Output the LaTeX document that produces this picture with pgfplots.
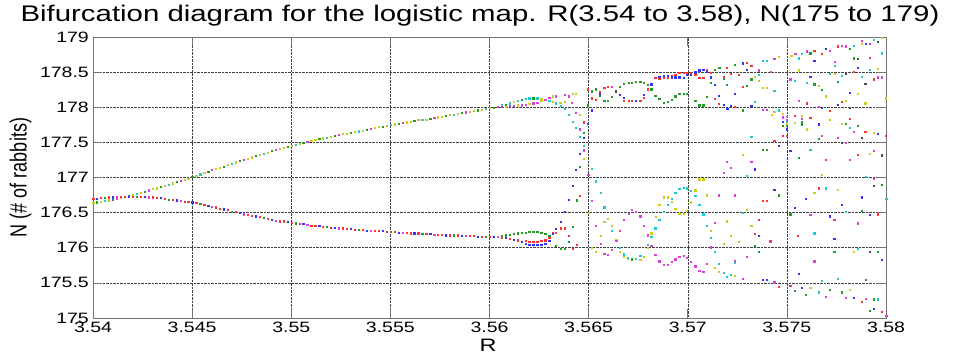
\documentclass[border=0pt]{standalone}
\usepackage{fontspec}
\setmainfont{Liberation Sans}
\newfontfamily\wfont[FakeStretch=1.3]{Liberation Sans}
\usepackage{graphicx}
\usepackage{pgfplots}
\pgfplotsset{compat=1.18}
\definecolor{mr}{rgb}{1,0.2,0.2}
\definecolor{mg}{rgb}{0.15,0.6,0.15}
\definecolor{mb}{rgb}{0.2,0.2,1}
\definecolor{mc}{rgb}{0.1,0.8,0.8}
\definecolor{mm}{rgb}{0.85,0.25,0.85}
\definecolor{my}{rgb}{0.8,0.8,0.1}
\definecolor{mk}{rgb}{0.3,0.3,0.3}
\begin{document}
\begin{tikzpicture}
\path[use as bounding box] (-93pt,-38pt) rectangle (861pt,318pt);
\begin{axis}[
  at={(0,0)}, anchor=south west,
  width=793pt, height=281pt, scale only axis,
  xmin=3.54, xmax=3.58, ymin=175, ymax=179,
  xtick={3.54,3.545,3.55,3.555,3.56,3.565,3.57,3.575,3.58},
  xticklabels={3.54,3.545,3.55,3.555,3.56,3.565,3.57,3.575,3.58},
  ytick={175,175.5,176,176.5,177,177.5,178,178.5,179},
  yticklabels={175,175.5,176,176.5,177,177.5,178,178.5,179},
  grid=major,
  grid style={densely dotted, black!75, line width=0.5pt},
  tick align=inside, major tick length=9pt,
  axis line style={black!55, line width=0.8pt},
  tick style={black!55, line width=0.6pt},
  ticklabel style={font=\wfont\fontsize{15}{15}\selectfont, inner sep=0pt},
  xticklabel style={yshift=-4pt},
  yticklabel style={xshift=-4pt},
  scatter/classes={
    r={draw=mr,fill=mr}, g={draw=mg,fill=mg}, b={draw=mb,fill=mb},
    c={draw=mc,fill=mc}, m={draw=mm,fill=mm}, y={draw=my,fill=my},
    k={draw=mk,fill=mk}},
]
\addplot[scatter, only marks, mark=square*, mark size=0.6pt,
  mark options={line width=0.15pt},
  scatter src=explicit symbolic]
  table[x=x, y=y, meta=c] {
x y c
3.5400 176.64 y
3.5402 176.65 g
3.5404 176.66 y
3.5406 176.67 c
3.5408 176.68 y
3.5410 176.69 g
3.5412 176.70 m
3.5414 176.71 y
3.5416 176.73 y
3.5418 176.74 g
3.5420 176.76 y
3.5422 176.77 c
3.5424 176.79 y
3.5426 176.80 g
3.5428 176.82 m
3.5430 176.84 y
3.5432 176.85 y
3.5434 176.87 g
3.5436 176.89 y
3.5438 176.90 c
3.5440 176.92 y
3.5442 176.94 g
3.5444 176.96 m
3.5446 176.97 y
3.5448 176.99 y
3.5450 177.01 g
3.5452 177.03 y
3.5454 177.05 c
3.5456 177.07 y
3.5458 177.09 g
3.5460 177.11 m
3.5462 177.13 y
3.5464 177.14 y
3.5466 177.16 g
3.5468 177.18 y
3.5470 177.20 c
3.5472 177.22 y
3.5474 177.24 g
3.5476 177.25 m
3.5478 177.27 y
3.5480 177.29 y
3.5482 177.31 g
3.5484 177.33 y
3.5486 177.34 c
3.5488 177.36 y
3.5490 177.38 g
3.5492 177.40 m
3.5494 177.41 y
3.5496 177.43 y
3.5498 177.44 g
3.5500 177.46 y
3.5502 177.47 c
3.5504 177.48 y
3.5506 177.50 g
3.5508 177.51 m
3.5510 177.52 y
3.5512 177.54 y
3.5514 177.55 g
3.5516 177.56 y
3.5518 177.57 c
3.5520 177.58 y
3.5522 177.60 g
3.5524 177.61 m
3.5526 177.62 y
3.5528 177.63 y
3.5530 177.64 g
3.5532 177.65 y
3.5534 177.66 c
3.5536 177.67 y
3.5538 177.68 g
3.5540 177.70 m
3.5542 177.71 y
3.5544 177.72 y
3.5546 177.73 g
3.5548 177.74 y
3.5550 177.75 c
3.5552 177.76 y
3.5554 177.77 g
3.5556 177.78 m
3.5558 177.79 y
3.5560 177.80 y
3.5562 177.81 g
3.5564 177.82 y
3.5566 177.82 c
3.5568 177.83 y
3.5570 177.84 g
3.5572 177.85 m
3.5574 177.86 y
3.5576 177.87 y
3.5578 177.88 g
3.5580 177.89 y
3.5582 177.90 c
3.5584 177.91 y
3.5586 177.92 g
3.5588 177.93 m
3.5590 177.94 y
3.5592 177.95 y
3.5594 177.96 g
3.5596 177.97 y
3.5598 177.98 c
3.5600 177.99 y
3.5602 178.00 g
3.5604 178.01 m
3.5400 176.70 r
3.5402 176.70 b
3.5404 176.71 r
3.5406 176.71 g
3.5408 176.72 r
3.5410 176.72 b
3.5412 176.72 m
3.5414 176.73 r
3.5416 176.73 r
3.5418 176.73 b
3.5420 176.73 r
3.5422 176.73 g
3.5424 176.73 r
3.5426 176.73 b
3.5428 176.72 m
3.5430 176.72 r
3.5432 176.71 r
3.5434 176.71 b
3.5436 176.70 r
3.5438 176.69 g
3.5440 176.69 r
3.5442 176.68 b
3.5444 176.67 m
3.5446 176.66 r
3.5448 176.66 r
3.5450 176.65 b
3.5452 176.64 r
3.5454 176.63 g
3.5456 176.61 r
3.5458 176.60 b
3.5460 176.59 m
3.5462 176.58 r
3.5464 176.56 r
3.5466 176.55 b
3.5468 176.54 r
3.5470 176.52 g
3.5472 176.51 r
3.5474 176.50 b
3.5476 176.48 m
3.5478 176.47 r
3.5480 176.46 r
3.5482 176.45 b
3.5484 176.44 r
3.5486 176.43 g
3.5488 176.42 r
3.5490 176.40 b
3.5492 176.39 m
3.5494 176.38 r
3.5496 176.38 r
3.5498 176.37 b
3.5500 176.36 r
3.5502 176.35 g
3.5504 176.34 r
3.5506 176.34 b
3.5508 176.33 m
3.5510 176.32 r
3.5512 176.32 r
3.5514 176.31 b
3.5516 176.30 r
3.5518 176.30 g
3.5520 176.29 r
3.5522 176.29 b
3.5524 176.28 m
3.5526 176.28 r
3.5528 176.27 r
3.5530 176.27 b
3.5532 176.26 r
3.5534 176.26 g
3.5536 176.26 r
3.5538 176.25 b
3.5540 176.25 m
3.5542 176.25 r
3.5544 176.24 r
3.5546 176.24 b
3.5548 176.23 r
3.5550 176.23 g
3.5552 176.23 r
3.5554 176.22 b
3.5556 176.22 m
3.5558 176.22 r
3.5560 176.21 r
3.5562 176.21 b
3.5564 176.21 r
3.5566 176.20 g
3.5568 176.20 r
3.5570 176.20 b
3.5572 176.19 m
3.5574 176.19 r
3.5576 176.19 r
3.5578 176.18 b
3.5580 176.18 r
3.5582 176.18 g
3.5584 176.18 r
3.5586 176.17 b
3.5588 176.17 m
3.5590 176.17 r
3.5592 176.17 r
3.5594 176.16 b
3.5596 176.16 r
3.5598 176.16 g
3.5600 176.16 r
3.5602 176.16 b
3.5604 176.16 m
3.5606 178.03 c
3.5608 178.04 g
3.5610 178.06 c
3.5612 178.08 y
3.5614 178.09 c
3.5616 178.11 g
3.5618 178.12 c
3.5620 178.13 c
3.5622 178.13 g
3.5624 178.13 c
3.5626 178.12 y
3.5628 178.11 c
3.5630 178.10 c
3.5632 178.08 y
3.5606 178.01 m
3.5608 178.01 y
3.5610 178.02 m
3.5612 178.02 m
3.5614 178.03 y
3.5616 178.03 m
3.5618 178.04 m
3.5620 178.05 y
3.5622 178.06 m
3.5624 178.07 m
3.5626 178.09 y
3.5628 178.11 m
3.5630 178.14 m
3.5632 178.16 y
3.5606 176.17 g
3.5608 176.18 g
3.5610 176.19 g
3.5612 176.20 g
3.5614 176.21 g
3.5616 176.22 g
3.5618 176.22 g
3.5620 176.23 g
3.5622 176.23 g
3.5624 176.23 g
3.5626 176.22 g
3.5628 176.20 g
3.5630 176.17 g
3.5606 176.15 r
3.5608 176.14 b
3.5610 176.13 r
3.5612 176.12 b
3.5614 176.11 r
3.5616 176.09 b
3.5618 176.10 r
3.5618 176.06 b
3.5620 176.09 r
3.5620 176.05 b
3.5622 176.09 r
3.5622 176.04 b
3.5624 176.09 r
3.5624 176.04 b
3.5626 176.10 r
3.5626 176.04 b
3.5628 176.11 r
3.5628 176.06 b
3.5630 176.14 r
3.5630 176.10 b
3.5632 176.21 r
3.5632 176.20 b
3.56334 178.16 m
3.56334 178.06 c
3.56356 178.07 y
3.56377 178.18 m
3.56377 178.08 y
3.56397 178.16 m
3.56418 178.19 y
3.56436 178.19 y
3.56415 178.07 m
3.56357 178.02 c
3.56377 177.98 c
3.56397 177.90 c
3.56436 177.92 m
3.56455 177.90 y
3.56418 177.80 c
3.56436 177.71 c
3.56455 177.69 m
3.56475 177.79 r
3.56475 177.64 g
3.56455 177.58 c
3.56475 177.57 b
3.56475 177.45 c
3.56475 177.39 m
3.56455 177.34 b
3.56475 177.27 y
3.56455 177.15 g
3.56436 177.11 b
3.56515 177.13 c
3.56495 177.77 b
3.56495 178.03 g
3.56495 177.04 m
3.56495 178.26 r
3.56515 177.96 b
3.56515 178.13 r
3.56515 178.23 g
3.56536 178.11 r
3.56536 178.26 g
3.56557 178.22 r
3.56557 178.20 b
3.56557 178.17 g
3.56578 178.28 r
3.56578 178.10 g
3.56596 178.29 r
3.56596 178.09 g
3.56616 178.29 m
3.56616 178.15 g
3.56637 178.23 k
3.56657 178.29 g
3.56657 178.18 b
3.56675 178.14 b
3.56675 178.34 g
3.56675 178.10 r
3.56700 178.35 g
3.56700 178.09 r
3.56717 178.09 r
3.56717 178.35 g
3.56737 178.09 b
3.56737 178.37 g
3.56759 178.09 r
3.56759 178.37 g
3.56776 178.14 r
3.56776 178.18 b
3.56776 178.35 g
3.56796 178.27 b
3.56796 178.32 g
3.56796 178.26 r
3.56815 178.26 g
3.56815 178.33 b
3.56835 178.17 g
3.56835 178.42 r
3.56855 178.44 b
3.56855 178.41 r
3.56855 178.12 g
3.56877 178.42 r
3.56877 178.45 b
3.56877 178.07 g
3.56899 178.43 r
3.56899 178.45 b
3.56919 178.45 r
3.56919 178.43 b
3.56936 178.47 r
3.56936 178.43 b
3.56956 178.49 r
3.56956 178.43 b
3.56978 178.49 r
3.56978 178.42 b
3.56996 178.46 b
3.56996 178.49 r
3.57016 178.47 b
3.57016 178.49 r
3.57037 178.50 b
3.57037 178.47 r
3.57057 178.53 b
3.57057 178.42 r
3.57077 178.54 b
3.57077 178.42 r
3.57096 178.54 r
3.57096 178.51 b
3.57117 178.49 r
3.57117 178.43 b
3.57117 178.35 g
3.57137 178.54 g
3.57137 178.32 b
3.57158 178.56 g
3.57179 178.44 r
3.57179 178.41 g
3.57196 178.32 g
3.57196 178.57 r
3.57218 178.48 r
3.57235 178.61 g
3.57258 178.46 r
3.57275 178.63 b
3.57295 178.64 r
3.57295 178.54 b
3.57319 178.59 r
3.57275 178.29 r
3.57295 178.31 g
3.57319 178.40 g
3.57137 178.12 r
3.57154 178.05 r
3.57154 178.17 b
3.57179 178.04 b
3.57198 177.98 b
3.57217 178.02 b
3.57235 178.01 r
3.57275 177.96 g
3.57235 178.20 b
3.57096 178.15 g
3.57057 178.03 g
3.57037 178.09 g
3.57077 178.03 g
3.56996 178.19 g
3.56978 178.20 g
3.56956 178.20 g
3.56936 178.16 g
3.56919 178.11 g
3.56899 178.08 g
3.57336 178.44 y
3.57356 178.53 m
3.57356 178.47 c
3.57356 178.38 y
3.57378 178.28 y
3.57398 178.28 y
3.57378 178.66 c
3.57398 178.67 c
3.57435 178.69 m
3.57416 178.51 m
3.57435 178.24 c
3.57319 178.02 b
3.57336 178.08 c
3.57378 177.97 m
3.57398 177.97 m
3.57435 177.94 y
3.57423 177.90 y
3.57319 177.58 c
3.57435 177.52 r
3.57378 177.40 g
3.57398 177.40 g
3.57275 177.33 y
3.57319 177.23 m
3.57196 177.23 m
3.57217 177.14 m
3.57179 177.07 m
3.57336 177.12 b
3.57295 177.03 c
3.57057 176.98 y
3.57077 176.98 y
3.57457 178.72 y
3.57521 178.74 y
3.57541 178.76 m
3.57558 178.70 c
3.57575 178.76 c
3.57600 178.80 m
3.57617 178.77 g
3.57637 178.81 r
3.57637 178.66 b
3.57696 178.83 b
3.57714 178.81 m
3.57676 178.76 r
3.57756 178.87 r
3.57776 178.88 m
3.57797 178.87 m
3.57835 178.88 c
3.57818 178.84 g
3.57835 178.70 g
3.57855 178.69 k
3.57877 178.95 m
3.57877 178.91 y
3.57897 178.91 b
3.57919 178.91 m
3.57938 178.96 c
3.57958 178.93 k
3.57978 178.99 y
3.57978 178.77 c
3.57918 178.71 r
3.57739 178.65 m
3.57739 178.59 c
3.57855 178.56 b
3.57838 178.51 r
3.57797 178.48 k
3.57717 178.48 c
3.57739 178.48 y
3.57558 178.53 y
3.57919 178.54 c
3.57958 178.55 y
3.57776 178.45 c
3.57617 178.44 b
3.57516 178.40 m
3.57537 178.38 c
3.57877 178.44 c
3.57936 178.40 r
3.57958 178.43 m
3.57978 178.43 m
3.57600 178.35 c
3.57637 178.33 g
3.57658 178.31 y
3.57676 178.25 g
3.57756 178.36 g
3.57894 178.34 k
3.57696 178.16 y
3.57818 178.21 b
3.57855 178.20 y
3.57558 178.09 m
3.57600 178.06 r
3.57797 178.10 y
3.57776 178.08 r
3.57756 178.04 b
3.57658 178.01 m
3.57676 178.00 b
3.57818 178.00 k
3.57894 178.06 y
3.57998 178.13 y
3.57457 177.96 c
3.57477 177.91 y
3.57499 177.87 m
3.57499 177.82 m
3.57499 177.79 c
3.57499 177.77 y
3.57499 177.74 g
3.57499 177.69 b
3.57499 177.60 r
3.57477 177.86 m
3.57477 177.80 b
3.57477 177.74 g
3.57477 177.60 r
3.57537 177.88 r
3.57537 177.78 y
3.57575 177.88 y
3.57575 177.84 m
3.57575 177.79 g
3.57575 177.75 g
3.57617 177.85 r
3.57600 177.69 y
3.57658 177.76 b
3.57714 177.95 r
3.57714 177.82 y
3.57676 177.60 m
3.57658 177.55 g
3.57756 177.57 m
3.57818 177.84 r
3.57776 177.77 y
3.57797 177.77 g
3.57818 177.71 c
3.57855 177.74 g
3.57835 177.65 m
3.57894 177.65 r
3.57936 177.64 y
3.57958 177.63 b
3.57998 177.60 r
3.57877 177.57 k
3.57776 177.50 k
3.57797 177.50 m
3.57457 177.45 b
3.57617 177.40 c
3.57516 177.38 b
3.57558 177.28 g
3.57696 177.26 r
3.57855 177.33 r
3.57916 177.34 y
3.57938 177.38 m
3.57978 177.32 k
3.57818 177.25 m
3.57676 177.04 y
3.57897 177.01 c
3.57938 176.99 m
3.56418 176.88 b
3.56456 176.74 r
3.56397 176.69 b
3.56438 176.68 g
3.56515 176.67 m
3.56536 176.95 c
3.56559 176.78 c
3.56498 177.04 m
3.56578 176.58 c
3.56377 176.52 b
3.56357 176.37 b
3.56418 176.30 g
3.56357 176.28 r
3.56377 176.28 r
3.56334 176.27 b
3.56334 176.22 r
3.56397 176.17 r
3.56397 176.09 g
3.56334 176.03 g
3.56357 175.99 g
3.56377 175.99 g
3.56418 175.99 r
3.56438 176.05 r
3.56498 176.50 y
3.56515 176.00 y
3.56536 175.94 y
3.56536 176.32 m
3.56559 176.17 y
3.56559 176.06 m
3.56578 176.37 y
3.56578 175.92 m
3.56596 176.42 y
3.56596 175.90 m
3.56616 176.31 y
3.56616 176.25 c
3.56616 175.97 m
3.56638 176.11 y
3.56638 176.10 m
3.56657 176.25 m
3.56657 175.95 y
3.56657 176.00 c
3.56675 176.40 m
3.56675 175.87 y
3.56675 175.91 c
3.56697 175.85 y
3.56697 175.86 c
3.56700 176.49 m
3.56717 176.54 m
3.56717 175.84 g
3.56737 175.85 c
3.56737 176.51 m
3.56759 175.83 y
3.56759 175.89 c
3.56759 176.45 m
3.56776 175.87 y
3.56776 176.32 m
3.56796 176.00 y
3.56796 176.05 c
3.56796 176.18 m
3.56815 176.03 m
3.56815 176.16 c
3.56815 176.21 y
3.56835 176.28 c
3.56835 175.90 m
3.56838 176.44 y
3.56855 176.40 c
3.56855 175.81 m
3.56855 176.62 y
3.56877 176.72 y
3.56877 176.51 c
3.56877 175.76 m
3.56899 176.72 y
3.56899 176.62 c
3.56919 176.70 c
3.56919 176.66 y
3.56936 176.79 c
3.56936 176.56 y
3.56956 176.84 c
3.56956 176.49 y
3.56978 176.86 c
3.56978 176.49 y
3.56996 176.85 c
3.56996 176.53 y
3.57016 176.81 c
3.57016 176.65 y
3.57037 176.82 y
3.57037 176.74 c
3.57057 176.62 c
3.57057 176.97 y
3.57077 176.97 y
3.57096 176.75 y
3.57077 176.48 c
3.57096 176.32 c
3.57137 176.36 m
3.57117 176.24 y
3.57117 176.14 c
3.57117 176.01 m
3.57196 176.38 y
3.57217 176.17 y
3.57179 176.06 y
3.57137 175.95 c
3.57154 176.75 m
3.57235 176.75 m
3.57258 176.09 y
3.57275 176.50 c
3.57297 176.54 y
3.57295 177.03 c
3.57356 176.40 r
3.57319 176.31 y
3.57336 176.20 r
3.57356 176.17 b
3.57415 176.09 m
3.57415 176.10 r
3.57336 176.03 g
3.57356 175.94 g
3.57295 175.88 m
3.57378 176.67 r
3.57398 176.67 r
3.57435 176.83 b
3.57235 175.81 m
3.57154 175.78 c
3.57137 175.72 y
3.57235 175.79 c
3.57154 175.66 y
3.57179 175.65 c
3.57196 175.59 c
3.57217 175.62 c
3.57235 175.60 y
3.57275 175.56 m
3.57378 175.55 b
3.57398 175.55 b
3.57435 175.51 g
3.56899 175.76 m
3.56919 175.80 m
3.56936 175.84 m
3.56956 175.87 m
3.56978 175.89 m
3.56996 175.86 m
3.57016 175.80 m
3.57037 175.74 m
3.57057 175.67 m
3.57077 175.66 m
3.57096 175.77 m
3.57938 176.89 k
3.57978 176.90 g
3.57658 176.85 r
3.57696 176.85 c
3.57756 176.83 y
3.57637 176.79 y
3.57457 176.75 g
3.57596 176.70 b
3.57877 176.72 b
3.58000 176.70 c
3.57537 176.57 b
3.57776 176.61 b
3.57797 176.51 c
3.57877 176.53 g
3.57516 176.48 g
3.57617 176.47 m
3.57714 176.45 b
3.57916 176.47 b
3.57958 176.48 r
3.57738 176.40 r
3.57855 176.35 m
3.57555 176.17 r
3.57637 176.21 c
3.57738 176.13 b
3.57855 175.99 c
3.57738 175.95 g
3.57835 175.94 y
3.57916 175.95 k
3.57958 175.95 g
3.57978 175.83 b
3.57637 175.81 m
3.57558 175.63 b
3.57676 175.53 c
3.57756 175.56 c
3.57897 175.55 g
3.57435 175.51 m
3.57457 175.45 r
3.57516 175.46 r
3.57575 175.43 b
3.57537 175.39 g
3.57658 175.37 c
3.57617 175.43 y
3.57714 175.40 g
3.57596 175.33 g
3.57696 175.31 m
3.57776 175.37 g
3.57818 175.41 y
3.57797 175.29 m
3.57835 175.29 b
3.57897 175.28 m
3.57877 175.23 r
3.57938 175.27 g
3.57958 175.27 c
3.57938 175.13 b
3.57916 175.10 g
3.57978 175.09 r
3.58000 175.04 m
};
\end{axis}
\node[anchor=base, font=\wfont\fontsize{22.6}{22.6}\selectfont] at (387pt,296pt)
  {Bifurcation diagram for the logistic map. R(3.54 to 3.58), N(175 to 179)};
\node[anchor=base, font=\wfont\fontsize{18}{18}\selectfont] at (395pt,-34pt) {R};
\node[rotate=90, anchor=center, font=\fontsize{18}{18}\selectfont] at (-72.5pt,140.5pt)
  {\scalebox{1}[1.3]{N (\# of rabbits)}};
\end{tikzpicture}
\end{document}
